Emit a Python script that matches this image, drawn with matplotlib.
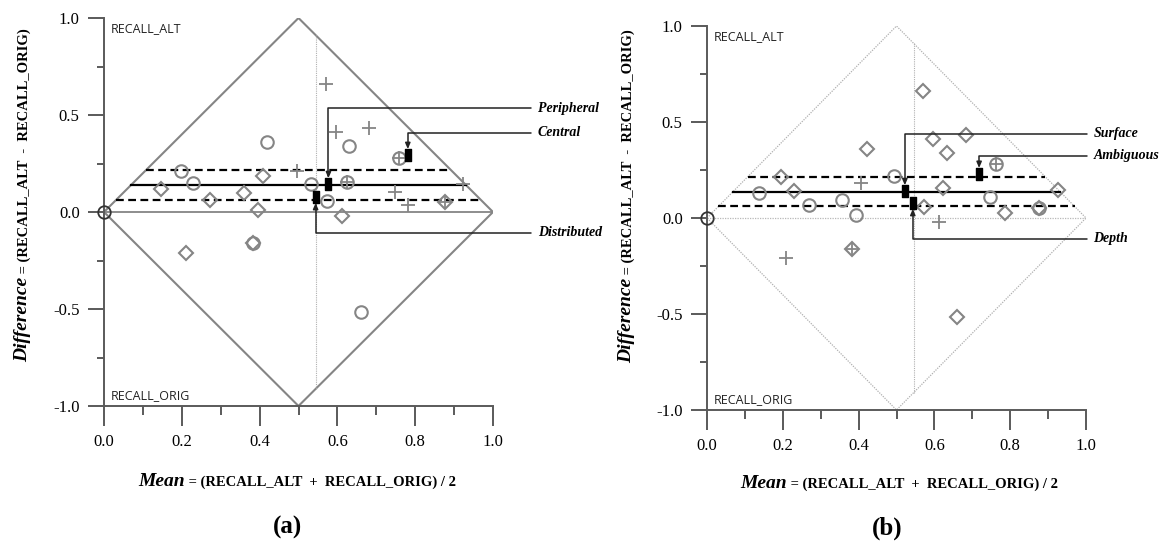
import matplotlib
matplotlib.use("Agg")
import matplotlib.pyplot as plt
from matplotlib.path import Path
from matplotlib.text import Annotation

# ---------------- data ----------------
# panel (a)
a_circle_x = [0.419, 0.630, 0.758, 0.198, 0.229, 0.532, 0.625, 0.573, 0.383, 0.661]
a_circle_y = [0.360, 0.340, 0.278, 0.211, 0.149, 0.144, 0.155, 0.057, -0.160, -0.515]
a_diamond_x = [0.409, 0.147, 0.272, 0.360, 0.877, 0.396, 0.612, 0.211, 0.383]
a_diamond_y = [0.186, 0.119, 0.062, 0.098, 0.052, 0.010, -0.020, -0.210, -0.160]
a_plus_x = [0.571, 0.597, 0.681, 0.758, 0.496, 0.625, 0.923, 0.748, 0.877, 0.781]
a_plus_y = [0.660, 0.410, 0.433, 0.278, 0.210, 0.155, 0.144, 0.103, 0.052, 0.036]
a_group_names = ["Peripheral", "Central", "Distributed"]
a_group_x = [0.577, 0.781, 0.544]
a_group_y = [0.144, 0.294, 0.077]
a_label_y = [0.535, 0.409, -0.107]

# panel (b)
b_circle_x = [0.762, 0.493, 0.137, 0.747, 0.356, 0.269, 0.393, 0.876]
b_circle_y = [0.280, 0.219, 0.130, 0.109, 0.094, 0.066, 0.016, 0.052]
b_diamond_x = [0.570, 0.597, 0.683, 0.422, 0.633, 0.195, 0.229, 0.623, 0.926,
               0.573, 0.786, 0.876, 0.383, 0.660]
b_diamond_y = [0.661, 0.410, 0.430, 0.360, 0.338, 0.213, 0.140, 0.156, 0.146,
               0.057, 0.026, 0.052, -0.160, -0.517]
b_plus_x = [0.762, 0.406, 0.612, 0.208, 0.383]
b_plus_y = [0.280, 0.184, -0.020, -0.210, -0.160]
b_group_names = ["Surface", "Ambiguous", "Depth"]
b_group_x = [0.522, 0.718, 0.543]
b_group_y = [0.140, 0.230, 0.078]
b_label_y = [0.4375, 0.325, -0.109]

# limits of agreement (mean difference and bounds)
bias = 0.138
upper_loa = 0.215
lower_loa = 0.060
ref_x = 0.545

x_major = [0.0, 0.2, 0.4, 0.6, 0.8, 1.0]
x_minor = [0.1, 0.3, 0.5, 0.7, 0.9]
y_major = [-1.0, -0.5, 0.0, 0.5, 1.0]
y_minor = [-0.75, -0.25, 0.25, 0.75]

# ---------------- style ----------------
SERIF = "Liberation Serif"
SANS = "Open Sans"
GRAY = "#858585"
AXC = "#5a5a5a"
W, H = 1163, 541

rect_marker = Path([(-0.23, -0.5), (0.23, -0.5), (0.23, 0.5), (-0.23, 0.5), (-0.23, -0.5)],
                   [Path.MOVETO, Path.LINETO, Path.LINETO, Path.LINETO, Path.CLOSEPOLY])

fig = plt.figure(figsize=(W / 100, H / 100), dpi=100)
fig.patch.set_facecolor("white")


def fx(px):
    return px / W


def fy(py):
    return 1 - py / H


def setup_axes(ax):
    ax.set_xlim(0, 1)
    ax.set_ylim(-1, 1)
    ax.patch.set_alpha(0)
    for s in ["top", "right"]:
        ax.spines[s].set_visible(False)
    for s in ["left", "bottom"]:
        ax.spines[s].set_color(AXC)
        ax.spines[s].set_linewidth(1.4)
    ax.set_xticks(x_major)
    ax.set_xticks(x_minor, minor=True)
    ax.set_yticks(y_major)
    ax.set_yticks(y_minor, minor=True)
    ax.set_xticklabels([f"{v:.1f}" for v in x_major], fontfamily=SERIF, fontsize=12)
    ax.set_yticklabels([f"{v:.1f}" for v in y_major], fontfamily=SERIF, fontsize=12)
    ax.tick_params(axis="x", which="major", direction="out", length=14.5, width=1.4,
                   color=AXC, pad=6)
    ax.tick_params(axis="x", which="minor", direction="out", length=6.5, width=1.4, color=AXC)
    ax.tick_params(axis="y", which="major", direction="out", length=11.5, width=1.4,
                   color=AXC, pad=6)
    ax.tick_params(axis="y", which="minor", direction="out", length=5, width=1.4, color=AXC)


def loa_span(y):
    return [abs(y) / 2, 1 - abs(y) / 2]


def draw_panel(ax, circ, diam, plus, gx, gy, names, ly, label_x, solid_frame):
    setup_axes(ax)
    dx = [0, 0.5, 1, 0.5, 0]
    dy = [0, 1, 0, -1, 0]
    if solid_frame:
        ax.plot(dx, dy, color=GRAY, lw=1.5, zorder=1)
        ax.plot([0, 1], [0, 0], color=GRAY, lw=1.3, zorder=1)
    else:
        ax.plot(dx, dy, color="#b0b0b0", lw=0.9, ls=(0, (1, 1)), zorder=1)
        ax.plot([0, 1], [0, 0], color="#b8b8b8", lw=0.9, ls=(0, (1, 1)), zorder=1)
    ax.plot([ref_x, ref_x], [-0.91, 0.91], color="#b0b0b0", lw=0.8, ls=(0, (1, 1)), zorder=1)

    ax.plot(loa_span(upper_loa), [upper_loa] * 2, color="black", lw=1.6,
            ls=(0, (3.5, 2)), zorder=3)
    ax.plot(loa_span(lower_loa), [lower_loa] * 2, color="black", lw=1.6,
            ls=(0, (3.5, 2)), zorder=3)
    ax.plot(loa_span(bias), [bias] * 2, color="black", lw=1.6, zorder=3)

    ax.plot(circ[0], circ[1], ls="none", marker="o", ms=9, mfc="none", mec=GRAY, mew=1.5,
            zorder=4)
    ax.plot(diam[0], diam[1], ls="none", marker="D", ms=6.8, mfc="none", mec=GRAY, mew=1.5,
            zorder=4)
    ax.plot(plus[0], plus[1], ls="none", marker="+", ms=10, mec=GRAY, mew=1.3, zorder=4)

    ax.plot([0], [0], ls="none", marker="o", ms=9, mfc="none", mec="#333333", mew=1.3,
            clip_on=False, zorder=5)

    ax.plot(gx, gy, ls="none", marker=rect_marker, ms=8, mfc="black", mec="black",
            zorder=6)
    for x, y, name, yl in zip(gx, gy, names, ly):
        ax.annotate(name, xy=(x, y), xytext=(label_x, yl), textcoords="data",
                    ha="left", va="center", fontfamily=SERIF, fontsize=10,
                    fontweight="bold", fontstyle="italic", annotation_clip=False,
                    arrowprops=dict(arrowstyle="-|>,head_length=0.35,head_width=0.15",
                                    connectionstyle="angle,angleA=180,angleB=90,rad=0",
                                    color="#222222", lw=1.1, shrinkA=3, shrinkB=4.2),
                    zorder=6)

    ax.text(0.018, 0.945, "RECALL_ALT", fontfamily=SANS, fontsize=9, color="#222222",
            ha="left", va="center")
    ax.text(0.018, -0.945, "RECALL_ORIG", fontfamily=SANS, fontsize=9, color="#222222",
            ha="left", va="center")


axA = fig.add_axes([fx(104), fy(406), fx(389), 388 / H])
axB = fig.add_axes([fx(707), fy(410), fx(379), 384 / H])

draw_panel(axA, (a_circle_x, a_circle_y), (a_diamond_x, a_diamond_y), (a_plus_x, a_plus_y),
           a_group_x, a_group_y, a_group_names, a_label_y, 1.115, True)
draw_panel(axB, (b_circle_x, b_circle_y), (b_diamond_x, b_diamond_y), (b_plus_x, b_plus_y),
           b_group_x, b_group_y, b_group_names, b_label_y, 1.02, False)


def ylabel(xc_px, bottom_px):
    t = fig.text(fx(xc_px), fy(bottom_px), "Difference", fontfamily=SERIF, fontsize=14,
                 fontweight="bold", fontstyle="italic", ha="center", va="bottom",
                 rotation=90)
    fig.add_artist(Annotation(
        " = (RECALL_ALT  -  RECALL_ORIG)", xy=(0.5, 1), xycoords=t,
        xytext=(1, 0), textcoords="offset points", ha="center", va="bottom", rotation=90,
        fontfamily=SERIF, fontsize=10.5, fontweight="bold", annotation_clip=False))
    return t


def xlabel(x0_px, bottom_px):
    t = fig.text(fx(x0_px), fy(bottom_px), "Mean", fontfamily=SERIF, fontsize=14,
                 fontweight="bold", fontstyle="italic", ha="left", va="bottom")
    fig.add_artist(Annotation(
        " = (RECALL_ALT  +  RECALL_ORIG) / 2", xy=(1, 0), xycoords=t,
        xytext=(0, 1), textcoords="offset points", ha="left", va="bottom",
        fontfamily=SERIF, fontsize=10.5, fontweight="bold", annotation_clip=False))
    return t


xlabel(138, 490)
xlabel(740, 492)
ylabel(23, 362)
ylabel(627, 363)

fig.text(fx(288), fy(527), "(a)", fontfamily=SERIF, fontsize=18, fontweight="bold",
         ha="center", va="center")
fig.text(fx(887), fy(528), "(b)", fontfamily=SERIF, fontsize=18, fontweight="bold",
         ha="center", va="center")

fig.savefig("out.png", dpi=100, facecolor="white")
